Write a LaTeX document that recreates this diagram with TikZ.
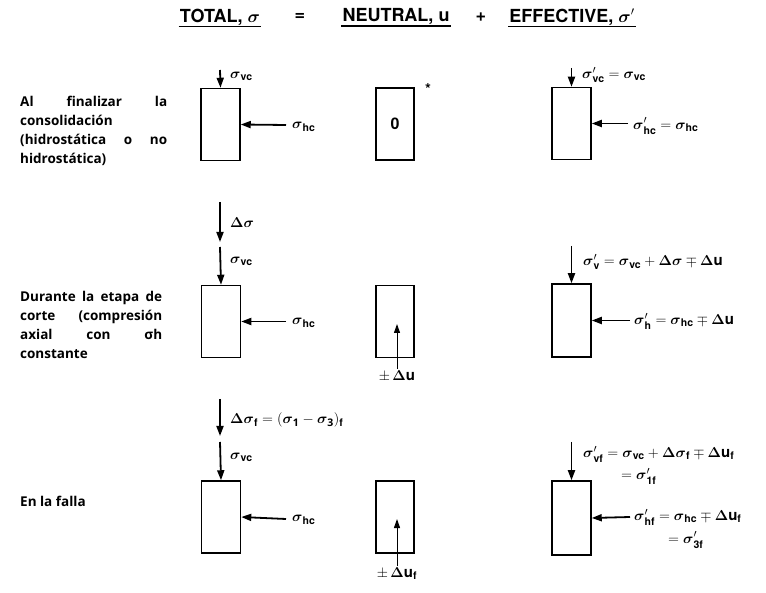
\documentclass[tikz,border=0pt]{standalone}
\usepackage{amsmath,amssymb}
\usepackage{fontspec}
\setmainfont{Open Sans}
\newfontfamily\lblfont{TeX Gyre Heros}
\usetikzlibrary{arrows.meta, positioning}
\newcommand{\sgm}{\boldsymbol{\sigma}}
\newcommand{\dlt}{\boldsymbol{\Delta}}
\tikzset{
    sample/.style={draw, line width=1.5pt, minimum width=39pt, minimum height=72pt, inner sep=0pt, font=\lblfont\bfseries\fontsize{16}{18}\selectfont},
    load/.style={-{Triangle[length=10pt,width=7pt]}, line width=1.8pt},
    pore/.style={-{Triangle[length=9pt,width=6pt]}, line width=1pt},
    lbl/.style={anchor=west, inner sep=1pt, font=\lblfont\bfseries\fontsize{15}{17}\selectfont},
    stage/.style={anchor=north west, text width=147pt, align=justify, inner sep=0pt, font=\bfseries\fontsize{13.5}{19}\selectfont},
    head/.style={inner sep=1pt, font=\lblfont\bfseries\fontsize{18}{20}\selectfont},
    uline/.style={line width=1.8pt}
}
\begin{document}
\begin{tikzpicture}[x=1pt, y=-1pt]
    \useasboundingbox (0,0) rectangle (766,593);

    % Header
    \node[head] (hT) at (220,17) {TOTAL, $\sgm$};
    \node[head] (hEq) at (300,17) {=};
    \node[head] (hN) at (396,17) {NEUTRAL, u};
    \node[head] (hPl) at (481,17) {+};
    \node[head] (hE) at (572,17) {EFFECTIVE, $\sgm'$};
    \draw[uline] (hT.south west) -- (hT.south east);
    \draw[uline] (hN.south west) -- (hN.south east);
    \draw[uline] (hE.south west) -- (hE.south east);

    % Stage texts
    \node[stage] (s1) at (20,96) {Al finalizar la\linebreak consolidación\newline (hidrostática o no\linebreak hidrostática)};
    \node[stage, text width=142pt] (s2) at (20,291) {Durante la etapa de\linebreak corte (compresión\linebreak axial con σh\linebreak constante};
    \node[stage, anchor=west] (s3) at (20,501) {En la falla};

    % Row 1: end of consolidation
    \node[sample] (b1l) at (220.5,124.5) {};
    \node[sample, minimum width=38pt] (b1m) at (395,124) {0};
    \node[sample] (b1r) at (571.5,123.5) {};
    \node[lbl, anchor=center] (ast) at (428,89) {*};
    \coordinate (v1l) at (220,70);
    \coordinate (h1l) at (286,125);
    \coordinate (v1r) at (571.5,68);
    \coordinate (h1r) at (628,123.5);
    \draw[load] (v1l) -- (b1l.north);
    \draw[load] (h1l) -- (b1l.east);
    \draw[load] (v1r) -- (b1r.north);
    \draw[load] (h1r) -- (b1r.east);
    \node[lbl] (t1v) at (229,76) {$\sgm_{\text{vc}}$};
    \node[lbl] (t1h) at (291,127) {$\sgm_{\text{hc}}$};
    \node[lbl] (t1rv) at (581,75) {$\sgm'_{\text{vc}} = \sgm_{\text{vc}}$};
    \node[lbl] (t1rh) at (632,126) {$\sgm'_{\text{hc}} = \sgm_{\text{hc}}$};

    % Row 2: shearing stage
    \node[sample] (b2l) at (221,321.5) {};
    \node[sample, minimum width=38pt] (b2m) at (395,321.5) {};
    \node[sample, minimum height=73pt] (b2r) at (571.5,320.5) {};
    \coordinate (d2t) at (220,202);
    \coordinate (d2b) at (220,242);
    \coordinate (v2l) at (220,247);
    \coordinate (h2l) at (286,321.5);
    \coordinate (u2t) at (397,324);
    \coordinate (v2r) at (571.5,246);
    \coordinate (h2r) at (630,320.5);
    \draw[load] (d2t) -- (d2b);
    \draw[load] (v2l) -- (b2l.north);
    \draw[load] (h2l) -- (b2l.east);
    \draw[load] (v2r) -- (b2r.north);
    \draw[load] (h2r) -- (b2r.east);
    \node[lbl] (t2d) at (229,223) {$\dlt\sgm$};
    \node[lbl] (t2v) at (229,261) {$\sgm_{\text{vc}}$};
    \node[lbl] (t2h) at (291,323) {$\sgm_{\text{hc}}$};
    \node[lbl, anchor=north] (t2u) at (397,369) {$\pm\,\dlt$u};
    \draw[pore] (t2u.north) -- (u2t);
    \node[lbl] (t2rv) at (582,262) {$\sgm'_{\text{v}} = \sgm_{\text{vc}} + \dlt\sgm \mp \dlt$u};
    \node[lbl] (t2rh) at (633,321) {$\sgm'_{\text{h}} = \sgm_{\text{hc}} \mp \dlt$u};

    % Row 3: at failure
    \node[sample] (b3l) at (221,517) {};
    \node[sample, minimum width=38pt] (b3m) at (395,517) {};
    \node[sample, minimum height=74pt] (b3r) at (571.5,518) {};
    \coordinate (d3t) at (220,399);
    \coordinate (d3b) at (220,436);
    \coordinate (v3l) at (220,442);
    \coordinate (h3l) at (286,519);
    \coordinate (u3t) at (397,519);
    \coordinate (v3r) at (571.5,442);
    \coordinate (h3r) at (630,517);
    \draw[load] (d3t) -- (d3b);
    \draw[load] (v3l) -- (b3l.north);
    \draw[load] (h3l) -- (b3l.east);
    \draw[load] (v3r) -- (b3r.north);
    \draw[load] (h3r) -- (b3r.east);
    \node[lbl] (t3d) at (229,420) {$\dlt\sgm_{\text{f}} = (\sgm_{\mathbf{1}} - \sgm_{\mathbf{3}})_{\text{f}}$};
    \node[lbl] (t3v) at (229,457) {$\sgm_{\text{vc}}$};
    \node[lbl] (t3h) at (291,520) {$\sgm_{\text{hc}}$};
    \node[lbl, anchor=north] (t3u) at (397,566) {$\pm\,\dlt$u$_{\text{f}}$};
    \draw[pore] (t3u.north) -- (u3t);
    \node[lbl] (t3rv) at (582,454) {$\sgm'_{\text{vf}} = \sgm_{\text{vc}} + \dlt\sgm_{\text{f}} \mp \dlt$u$_{\text{f}}$};
    \node[lbl] (t3rv2) at (620,476) {$= \sgm'_{\text{1f}}$};
    \node[lbl] (t3rh) at (633,517) {$\sgm'_{\text{hf}} = \sgm_{\text{hc}} \mp \dlt$u$_{\text{f}}$};
    \node[lbl] (t3rh2) at (667,540) {$= \sgm'_{\text{3f}}$};
\end{tikzpicture}
\end{document}
